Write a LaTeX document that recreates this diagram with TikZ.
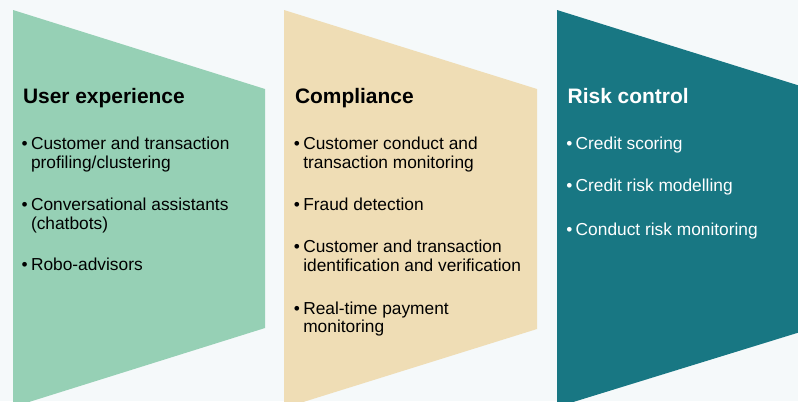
\documentclass[tikz,border=0pt]{standalone}
\usepackage{fontspec}
\setmainfont{Liberation Sans}
\usetikzlibrary{positioning}

\definecolor{bgpale}{HTML}{F5F9FA}
\definecolor{uxgreen}{HTML}{96D0B5}
\definecolor{compsand}{HTML}{EFDDB5}
\definecolor{riskteal}{HTML}{187783}

% one bullet point: name, x, y (top), text
\newcommand{\bullitem}[4]{%
  \node[point] (#1) at (#2,#3) {\strut #4};
  \node[dot] (#1-dot) at (#1.north west) {\strut\textbullet};}

\begin{document}
\begin{tikzpicture}[x=0.75pt, y=-0.75pt,
  every node/.style={inner sep=0pt, outer sep=0pt},
  head/.style={anchor=base west, font=\fontsize{15.7}{18}\selectfont\bfseries},
  point/.style={anchor=north west, align=left, font=\fontsize{13}{13.9}\selectfont},
  dot/.style={anchor=north east, xshift=-2.5pt, font=\fontsize{13}{13.9}\selectfont}]

  % canvas
  \fill[bgpale] (0,0) rectangle (798,401);
  \useasboundingbox (0,0) rectangle (798,401);
  \clip (0,0) rectangle (798,401);

  % chevron panels
  \fill[uxgreen]   (13,10)  -- (265,89)  -- (265,328) -- (13,407)  -- cycle;
  \fill[compsand]  (284,10) -- (537,89)  -- (537,329) -- (284,408) -- cycle;
  \fill[riskteal]  (557,10) -- (810,89)  -- (810,329) -- (557,407) -- cycle;

  % User experience
  \node[head] (ux) at (23,103.5) {User experience};
  \bullitem{ux1}{31}{137}{Customer and transaction\\profiling/clustering}
  \bullitem{ux2}{31}{198}{Conversational assistants\\(chatbots)}
  \bullitem{ux3}{31}{258}{Robo-advisors}

  % Compliance
  \node[head] (comp) at (295,103.5) {Compliance};
  \bullitem{comp1}{303.3}{137}{Customer conduct and\\transaction monitoring}
  \bullitem{comp2}{303.3}{198}{Fraud detection}
  \bullitem{comp3}{303.3}{239.7}{Customer and transaction\\identification and verification}
  \bullitem{comp4}{303.3}{301.3}{Real-time payment\\monitoring}

  % Risk control
  \begin{scope}[every node/.append style={text=white}]
    \node[head] (risk) at (567.7,103.5) {Risk control};
    \bullitem{risk1}{575.7}{137}{Credit scoring}
    \bullitem{risk2}{575.7}{179}{Credit risk modelling}
    \bullitem{risk3}{575.7}{222.3}{Conduct risk monitoring}
  \end{scope}

\end{tikzpicture}
\end{document}
